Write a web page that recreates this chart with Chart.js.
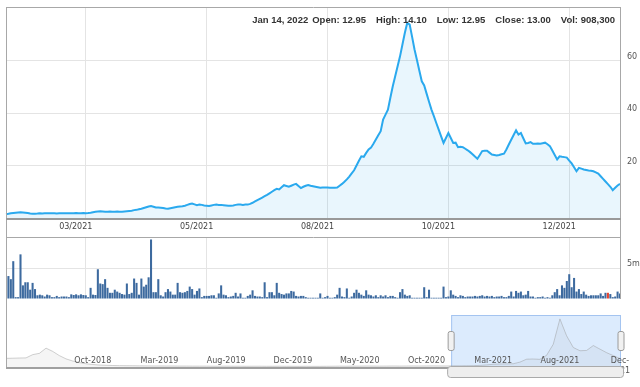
<!DOCTYPE html>
<html>
<head>
<meta charset="utf-8">
<script src="https://cdn.jsdelivr.net/npm/chart.js@4.4.1/dist/chart.umd.min.js"></script>
<style>
  html, body { margin: 0; padding: 0; background: #fff; }
  #wrap { position: relative; width: 640px; height: 387px; overflow: hidden; }
  #wrap canvas { position: absolute; left: 0; }
  #hdr { position: absolute; top: 14px; right: 25px; font: bold 9.5px "Liberation Sans", Arial, sans-serif; color: #333; white-space: nowrap; line-height: 11px; }
  #hdr span { margin-left: 10px; }
  #hdr span:first-child { margin-left: 0; margin-right: -6px; }
</style>
</head>
<body>
<div id="wrap">
  <canvas id="priceChart" width="640" height="237" style="top:0"></canvas>
  <canvas id="volChart" width="640" height="62" style="top:237px"></canvas>
  <canvas id="navChart" width="640" height="88" style="top:299px"></canvas>
  <div id="hdr"></div>
</div>
<script>
// daily close, last ~255 sessions
const prices = [
  1.45, 1.6, 1.8, 1.9, 2.0, 2.1, 2.2, 2.1, 2.0, 1.9,
  1.7, 1.6, 1.65, 1.7, 1.8, 1.75, 1.8, 1.8, 1.85, 1.8,
  1.8, 1.75, 1.8, 1.8, 1.8, 1.85, 1.8, 1.8, 1.85, 1.9,
  1.85, 1.85, 1.9, 1.85, 1.9, 2.0, 2.2, 2.4, 2.5, 2.6,
  2.5, 2.4, 2.4, 2.45, 2.4, 2.4, 2.45, 2.4, 2.4, 2.5,
  2.6, 2.7, 2.8, 3.0, 3.1, 3.3, 3.5, 3.8, 4.1, 4.4,
  4.6, 4.3, 4.0, 4.0, 3.9, 3.8, 3.6, 3.5, 3.7, 3.9,
  4.1, 4.3, 4.4, 4.5, 4.7, 5.0, 5.3, 5.5, 5.2, 4.9,
  5.1, 5.0, 4.8, 4.7, 4.6, 4.8, 5.0, 5.1, 5.0, 5.0,
  4.9, 4.8, 4.7, 4.7, 4.8, 5.0, 5.1, 5.1, 5.0, 5.1,
  5.1, 5.4, 5.8, 6.3, 6.8, 7.3, 7.8, 8.3, 8.8, 9.4,
  10.0, 10.6, 11.1, 10.9, 11.7, 12.5, 12.2, 11.9, 12.3, 12.7,
  13.0, 12.2, 11.4, 11.9, 12.3, 12.6, 12.3, 12.1, 11.9, 11.7,
  11.5, 11.6, 11.6, 11.6, 11.5, 11.5, 11.5, 11.6, 12.3, 13.0,
  13.8, 14.7, 15.8, 17.0, 18.2, 20.0, 21.8, 23.5, 23.3, 24.8,
  26.1, 26.8, 28.3, 29.9, 31.5, 33.1, 37.5, 39.4, 41.3, 45.8,
  50.2, 54.0, 57.8, 61.6, 66.1, 70.6, 74.4, 73.7, 69.0, 64.2,
  60.2, 56.1, 52.1, 50.5, 47.4, 44.3, 41.3, 38.8, 36.2, 33.7,
  31.1, 28.6, 30.5, 32.4, 30.5, 28.6, 28.7, 27.0, 27.1, 27.0,
  26.4, 25.8, 25.1, 24.3, 23.4, 22.6, 24.0, 25.5, 25.6, 25.6,
  24.9, 24.2, 24.0, 23.8, 24.0, 24.3, 24.5, 26.1, 28.0, 29.8,
  31.6, 33.4, 31.8, 32.4, 30.4, 28.4, 28.6, 28.9, 28.3, 28.3,
  28.4, 28.3, 28.5, 28.7, 28.1, 27.4, 25.7, 24.0, 22.3, 23.5,
  23.3, 23.2, 23.0, 21.9, 20.8, 19.3, 17.8, 19.1, 18.8, 18.5,
  18.3, 18.1, 18.0, 17.8, 17.4, 16.9, 15.9, 14.9, 13.9, 12.9,
  11.9, 10.6, 11.5, 12.4, 13.0
];

// volume in millions
const volumes = [
  3.5, 3.7, 3.2, 6.1, 0.3, 0.3, 7.2, 2.2, 2.7, 2.7,
  1.5, 2.6, 1.6, 0.6, 0.7, 0.6, 0.4, 0.7, 0.6, 0.3,
  0.3, 0.5, 0.3, 0.4, 0.4, 0.4, 0.3, 0.75, 0.65, 0.75,
  0.6, 0.75, 0.65, 0.6, 0.3, 1.8, 0.7, 0.65, 4.8, 2.5,
  2.4, 3.2, 1.8, 1.0, 1.0, 1.5, 1.2, 1.0, 0.8, 0.7,
  2.5, 0.8, 1.0, 3.3, 2.6, 0.7, 3.3, 2.0, 2.3, 3.5,
  9.6, 1.1, 1.1, 3.2, 0.6, 0.4, 1.1, 1.6, 1.2, 0.7,
  0.7, 2.6, 1.1, 1.0, 1.1, 1.3, 2.0, 1.6, 0.7, 1.3,
  1.7, 0.3, 0.5, 0.5, 0.5, 0.6, 0.6, 0.2, 0.9, 2.2,
  0.7, 0.6, 0.3, 0.4, 0.5, 1.0, 0.4, 0.9, 0.2, 0.2,
  0.5, 0.7, 1.4, 0.5, 0.4, 0.4, 0.3, 2.7, 0.3, 1.1,
  1.1, 0.6, 2.6, 1.0, 0.8, 0.7, 0.9, 0.9, 1.3, 1.2,
  0.5, 0.4, 0.5, 0.5, 0.3, 0.2, 0.2, 0.2, 0.2, 0.2,
  0.9, 0.2, 0.3, 0.5, 0.2, 0.2, 0.3, 0.7, 1.8, 0.4,
  0.3, 1.7, 0.2, 0.4, 1.0, 1.5, 1.0, 0.7, 0.5, 1.4,
  0.7, 0.6, 0.4, 0.6, 0.3, 0.6, 0.4, 0.6, 0.3, 0.5,
  0.5, 0.3, 0.2, 1.1, 1.6, 0.7, 0.5, 0.6, 0.2, 0.2,
  0.2, 0.2, 0.2, 1.9, 0.3, 1.5, 0.2, 0.2, 0.2, 0.2,
  0.2, 2.0, 0.3, 0.4, 1.4, 0.7, 0.5, 0.3, 0.6, 0.5,
  0.3, 0.4, 0.4, 0.4, 0.5, 0.4, 0.5, 0.6, 0.4, 0.5,
  0.4, 0.5, 0.3, 0.4, 0.4, 0.5, 0.3, 0.3, 0.5, 1.2,
  0.4, 1.3, 1.0, 1.2, 0.6, 0.7, 1.3, 0.4, 0.4, 0.2,
  0.3, 0.3, 0.4, 0.2, 0.3, 0.2, 0.6, 1.1, 1.6, 0.6,
  2.2, 1.8, 2.9, 4.0, 1.9, 3.4, 1.2, 1.6, 0.8, 1.2,
  0.7, 0.5, 0.6, 0.6, 0.6, 0.6, 0.9, 0.5, 1.0, 1.0,
  0.8, 0.3, 0.4, 1.2, 0.9
];
const redBar = 249;

// x-axis tick positions (session index) and their labels
const tickIdx = [33, 83, 133, 183, 233];
const tickText = ['03/2021', '05/2021', '08/2021', '10/2021', '12/2021'];
const priceTicks = [20, 40, 60];
const volTicks = [5];

// navigator: longer history, roughly every 10 sessions
const navPrices = [
  13.3, 13.5, 13.8, 14.0, 19.0, 21.0, 29.0, 24.0, 17.5, 12.5,
  9.2, 6.8, 5.0, 3.8, 3.0, 2.6, 2.3, 2.1, 2.0, 1.9,
  1.8, 1.7, 1.6, 1.6, 1.5, 1.5, 1.4, 1.4, 1.3, 1.3,
  1.3, 1.2, 1.2, 1.3, 1.2, 1.2, 1.1, 1.2, 1.2, 1.1,
  1.1, 1.2, 1.1, 1.1, 1.0, 1.1, 1.0, 1.0, 1.1, 1.2,
  1.3, 1.2, 1.4, 1.3, 1.5, 1.4, 1.3, 1.4, 1.5, 1.4,
  1.5, 1.6, 1.5, 1.6, 1.7, 1.6, 1.6, 1.8, 1.8, 1.9,
  2.0, 2.5, 3.2, 4.2, 4.6, 4.8, 5.0, 7.5, 12.0, 12.3,
  11.8, 18.0, 35.0, 74.0, 48.0, 30.0, 25.0, 25.5, 33.0, 27.5,
  22.0, 17.5, 13.0
];
const navTickIdx = [13, 23, 33, 43, 53, 63, 73, 83, 92];
const navTickText = ['Oct-2018', 'Mar-2019', 'Aug-2019', 'Dec-2019', 'May-2020', 'Oct-2020', 'Mar-2021', 'Aug-2021', ['Dec-', '2021']];
const navSel = [66.7, 92];

const hdrDate = 'Jan 14, 2022';
const hdrKeys = ['Open', 'High', 'Low', 'Close', 'Vol'];
const hdrVals = ['12.95', '14.10', '12.95', '13.00', '908,300'];

document.getElementById('hdr').innerHTML =
  '<span>' + hdrDate + '</span>' +
  hdrKeys.map((k, i) => '<span>' + k + ': ' + hdrVals[i] + '</span>').join('');

const days = prices.map((_, i) => i);
const navDays = navPrices.map((_, i) => i);
const axisFont = { family: 'DejaVu Sans', size: 8 };
const gridCol = '#e4e4e4';
const frameCol = '#a8a8a8';

function vline(ctx, x, y1, y2) { ctx.moveTo(x, y1); ctx.lineTo(x, y2); }
function hline(ctx, x1, x2, y) { ctx.moveTo(x1, y); ctx.lineTo(x2, y); }

// keep tick-label padding from shrinking the plot area
function fixY(s) { s.width = 20; s.paddingTop = 0; s.paddingBottom = 0; }
function fixX(h) { return s => { s.height = h; s.paddingLeft = 0; s.paddingRight = 0; }; }

const priceFrame = {
  id: 'priceFrame',
  afterDraw(chart) {
    const { ctx, chartArea: a, height } = chart;
    ctx.save();
    ctx.strokeStyle = frameCol;
    ctx.lineWidth = 1;
    ctx.beginPath();
    vline(ctx, a.left + 0.5, a.top, height);
    vline(ctx, a.right + 0.5, a.top, height);
    hline(ctx, a.left, a.right + 1, a.top + 0.5);
    ctx.stroke();
    ctx.strokeStyle = '#999';
    ctx.lineWidth = 2;
    ctx.beginPath();
    hline(ctx, a.left, a.right + 1, a.bottom + 1);
    ctx.stroke();
    ctx.restore();
  }
};

const volFrame = {
  id: 'volFrame',
  afterDraw(chart) {
    const { ctx, chartArea: a, height } = chart;
    ctx.save();
    ctx.strokeStyle = frameCol;
    ctx.lineWidth = 1;
    ctx.beginPath();
    vline(ctx, a.left + 0.5, 0, height);
    vline(ctx, a.right + 0.5, 0, height);
    hline(ctx, a.left, a.right + 1, 0.5);
    ctx.stroke();
    ctx.restore();
  }
};

function selBounds(chart) {
  const xs = chart.scales.x;
  return [xs.getPixelForValue(navSel[0]), xs.getPixelForValue(navSel[1]) + 1];
}

const navDecor = {
  id: 'navDecor',
  beforeDatasetsDraw(chart) {
    const { ctx, chartArea: a } = chart;
    const [x1, x2] = selBounds(chart);
    ctx.save();
    // selected range
    ctx.fillStyle = 'rgba(178,210,250,0.45)';
    ctx.fillRect(x1, a.top, x2 - x1, a.bottom - a.top);
    ctx.strokeStyle = 'rgba(140,180,235,0.7)';
    ctx.lineWidth = 1;
    ctx.strokeRect(x1 + 0.5, a.top + 0.5, x2 - x1 - 1, a.bottom - a.top);
    ctx.restore();
  },
  afterDraw(chart) {
    const { ctx, chartArea: a } = chart;
    const [x1, x2] = selBounds(chart);
    const midY = (a.top + a.bottom) / 2;
    ctx.save();
    // left frame and bottom rule
    ctx.strokeStyle = frameCol;
    ctx.lineWidth = 1;
    ctx.beginPath();
    vline(ctx, a.left + 0.5, 0, a.bottom);
    ctx.stroke();
    ctx.strokeStyle = '#a0a0a0';
    ctx.lineWidth = 2;
    ctx.beginPath();
    hline(ctx, a.left, a.right + 4, a.bottom + 1);
    ctx.stroke();
    ctx.lineWidth = 1;
    // handles
    [x1, x2].forEach(x => {
      ctx.beginPath();
      ctx.roundRect(x - 3, midY - 9.5, 6, 19, 2);
      ctx.fillStyle = '#f1f1f1';
      ctx.fill();
      ctx.strokeStyle = '#9a9a9a';
      ctx.stroke();
    });
    // scrollbar
    ctx.beginPath();
    ctx.roundRect(x1 - 3.5, a.bottom - 0.5, x2 - x1 + 6, 11, 3);
    ctx.fillStyle = '#eeeeee';
    ctx.fill();
    ctx.strokeStyle = '#aaaaaa';
    ctx.stroke();
    ctx.restore();
  }
};

const tickLabel = (v, i) => {
  const k = tickIdx.indexOf(i);
  return k >= 0 ? tickText[k] : '';
};

new Chart(document.getElementById('priceChart'), {
  type: 'line',
  data: {
    labels: days,
    datasets: [{
      data: prices,
      borderColor: '#2aa9ee',
      borderWidth: 2,
      backgroundColor: 'rgba(42,169,238,0.1)',
      fill: 'origin',
      pointRadius: 0,
      tension: 0
    }]
  },
  options: {
    responsive: false,
    animation: false,
    devicePixelRatio: 1,
    layout: { padding: { left: 6, top: 7, right: 0, bottom: 0 } },
    plugins: { legend: { display: false }, tooltip: { enabled: false } },
    scales: {
      x: {
        ticks: { autoSkip: false, maxRotation: 0, minRotation: 0, labelOffset: -10, padding: 4, color: '#444', font: axisFont, callback: tickLabel },
        grid: { drawTicks: false, color: c => tickIdx.includes(c.index) ? gridCol : 'transparent' },
        border: { display: false },
        afterFit: fixX(19)
      },
      y: {
        position: 'right',
        min: 0,
        max: 80.4,
        ticks: { stepSize: 20, padding: 7, labelOffset: -4, color: '#555', font: axisFont,
          callback: v => priceTicks.includes(v) ? String(v) : '' },
        grid: { drawTicks: false, color: c => c.tick && priceTicks.includes(c.tick.value) ? gridCol : 'transparent' },
        border: { display: false },
        afterFit: fixY
      }
    }
  },
  plugins: [priceFrame]
});

new Chart(document.getElementById('volChart'), {
  type: 'bar',
  data: {
    labels: days,
    datasets: [{
      data: volumes,
      backgroundColor: volumes.map((_, i) => i === redBar ? '#e8432c' : '#3d6a9f'),
      barPercentage: 0.85,
      categoryPercentage: 1
    }]
  },
  options: {
    responsive: false,
    animation: false,
    devicePixelRatio: 1,
    layout: { padding: { left: 6, top: 0, right: 0, bottom: 0 } },
    plugins: { legend: { display: false }, tooltip: { enabled: false } },
    scales: {
      x: {
        offset: false,
        ticks: { display: false, autoSkip: false },
        grid: { offset: false, drawTicks: false, color: c => tickIdx.includes(c.index) ? gridCol : 'transparent' },
        border: { display: false },
        afterFit: fixX(0)
      },
      y: {
        position: 'right',
        min: 0,
        max: 10,
        ticks: { stepSize: 5, padding: 7, labelOffset: -4, color: '#555', font: axisFont,
          callback: v => volTicks.includes(v) ? v + 'm' : '' },
        grid: { drawTicks: false, color: c => c.tick && volTicks.includes(c.tick.value) ? gridCol : 'transparent' },
        border: { display: false },
        afterFit: fixY
      }
    }
  },
  plugins: [volFrame]
});

new Chart(document.getElementById('navChart'), {
  type: 'line',
  data: {
    labels: navDays,
    datasets: [{
      data: navPrices,
      borderColor: 'rgba(150,150,150,0.45)',
      borderWidth: 1,
      backgroundColor: 'rgba(120,120,120,0.07)',
      fill: 'origin',
      pointRadius: 0,
      tension: 0
    }]
  },
  options: {
    responsive: false,
    animation: false,
    devicePixelRatio: 1,
    layout: { padding: { left: 6, top: 16, right: 20, bottom: 20 } },
    plugins: { legend: { display: false }, tooltip: { enabled: false } },
    scales: {
      x: {
        ticks: { autoSkip: false, maxRotation: 0, minRotation: 0, mirror: true, padding: 1, z: 1, color: '#555', font: axisFont,
          callback: (v, i) => { const k = navTickIdx.indexOf(i); return k >= 0 ? navTickText[k] : ''; } },
        grid: { display: false, drawTicks: false },
        border: { display: false },
        afterFit: fixX(0)
      },
      y: { display: false, min: 0, max: 80 }
    }
  },
  plugins: [navDecor]
});
</script>
</body>
</html>
